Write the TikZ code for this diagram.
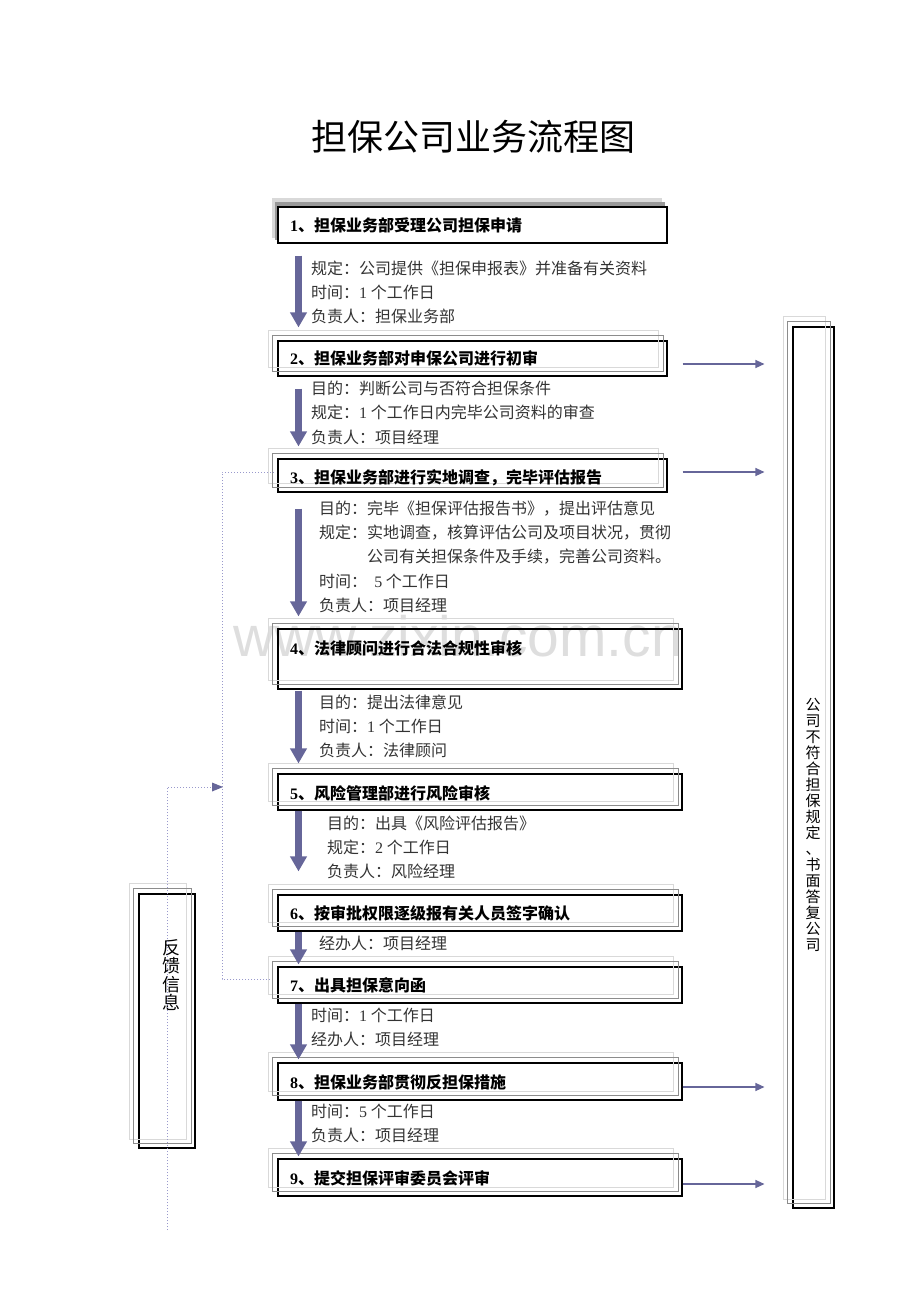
\documentclass[tikz,border=0pt]{standalone}
\usepackage{fontspec}
\setmainfont{Liberation Serif}
\newfontfamily\cjk{Noto Sans CJK SC}
\newfontfamily\lat{Liberation Serif}
\newfontfamily\wmfont{Liberation Sans}
\usetikzlibrary{arrows.meta,calc}
\definecolor{arrowblue}{HTML}{666699}
\definecolor{dotblue}{HTML}{9999CC}
\tikzset{
  box/.style={draw=black, line width=1.1pt, inner sep=0, minimum width=#1},
  lbl/.style={anchor=west, inner sep=0, font=\cjk\bfseries\fontsize{16}{18}\selectfont},
  body/.style={anchor=west, inner sep=0, text=black!80, font=\cjk\fontsize{16}{18}\selectfont},
  bigarrow/.style={draw=arrowblue, line width=7.5pt, -{Triangle[length=15pt,width=16pt]}},
  thinarrow/.style={draw=arrowblue, line width=1.2pt, -{Triangle[length=9pt,width=8pt]}},
  dotline/.style={draw=dotblue, line width=1pt, dotted},
  lay1/.style={draw=black!15, line width=1pt},
  lay2/.style={draw=black!45, line width=1pt},
}
\newcommand\layers[1]{%
  \draw[lay1] ($(#1.south west)+(-9,-9.5)$) rectangle ($(#1.north east)+(-9,-9.5)$);
  \draw[lay2] ($(#1.south west)+(-4.5,-5)$) rectangle ($(#1.north east)+(-4.5,-5)$);}
\begin{document}
\begin{tikzpicture}[x=1pt,y=-1pt]
\useasboundingbox (0,0) rectangle (920,1302);
% watermark
\node[inner sep=0, text=black!13, font=\wmfont\fontsize{57}{60}\selectfont] (wm) at (458,636) {www.zixin.com.cn};
% title
\node[inner sep=0, font=\cjk\fontsize{36}{40}\selectfont] (title) at (473,137) {担保公司业务流程图};
% box 1 with shadow
\fill[black!15] (272,198) rectangle (662,238);
\fill[black!40] (275,202) rectangle (665,240);
\node[box=389, minimum height=36, fill=white] (b1) at (472.5,225) {};
% boxes 2-9
\node[box=389, minimum height=35] (b2) at (472.5,358.5) {};
\node[box=389, minimum height=33] (b3) at (472.5,475.5) {};
\node[box=404, minimum height=60] (b4) at (480,659) {};
\node[box=404, minimum height=36] (b5) at (480,792) {};
\node[box=404, minimum height=36] (b6) at (480,913) {};
\node[box=404, minimum height=36] (b7) at (480,985) {};
\node[box=404, minimum height=37] (b8) at (480,1081.5) {};
\node[box=404, minimum height=37] (b9) at (480,1177.5) {};
\foreach \b in {b2,b3,b4,b5,b6,b7,b8,b9} {\layers{\b}}
% right and left tall boxes
\node[box=41, minimum height=881] (R) at (813.5,767.5) {};
\layers{R}
\node[box=56, minimum height=254] (L) at (167,1021) {};
\layers{L}
% labels
\node[lbl] (l1) at (290,225) {{\lat 1}、担保业务部受理公司担保申请};
\node[lbl] (l2) at (290,358.5) {{\lat 2}、担保业务部对申保公司进行初审};
\node[lbl] (l3) at (290,478) {{\lat 3}、担保业务部进行实地调查，完毕评估报告};
\node[lbl] (l4) at (290,648) {{\lat 4}、法律顾问进行合法合规性审核};
\node[lbl] (l5) at (290,793) {{\lat 5}、风险管理部进行风险审核};
\node[lbl] (l6) at (290,913) {{\lat 6}、按审批权限逐级报有关人员签字确认};
\node[lbl] (l7) at (290,985) {{\lat 7}、出具担保意向函};
\node[lbl] (l8) at (290,1082) {{\lat 8}、担保业务部贯彻反担保措施};
\node[lbl] (l9) at (290,1178) {{\lat 9}、提交担保评审委员会评审};
% body texts
\node[body] (t1a) at (311,268) {规定：公司提供《担保申报表》并准备有关资料};
\node[body] (t1b) at (311,292) {时间：{\lat 1} 个工作日};
\node[body] (t1c) at (311,316) {负责人：担保业务部};
\node[body] (t2a) at (311,388) {目的：判断公司与否符合担保条件};
\node[body] (t2b) at (311,412) {规定：{\lat 1} 个工作日内完毕公司资料的审查};
\node[body] (t2c) at (311,437) {负责人：项目经理};
\node[body] (t3a) at (319,509) {目的：完毕《担保评估报告书》，提出评估意见};
\node[body] (t3b) at (319,533) {规定：实地调查，核算评估公司及项目状况，贯彻};
\node[body] (t3c) at (367,557) {公司有关担保条件及手续，完善公司资料。};
\node[body] (t3d) at (319,581) {时间：\ \ {\lat 5} 个工作日};
\node[body] (t3e) at (319,605) {负责人：项目经理};
\node[body] (t4a) at (319,702) {目的：提出法律意见};
\node[body] (t4b) at (319,726) {时间：{\lat 1} 个工作日};
\node[body] (t4c) at (319,750) {负责人：法律顾问};
\node[body] (t5a) at (327,823) {目的：出具《风险评估报告》};
\node[body] (t5b) at (327,847) {规定：{\lat 2} 个工作日};
\node[body] (t5c) at (327,871) {负责人：风险经理};
\node[body] (t6a) at (319,943) {经办人：项目经理};
\node[body] (t7a) at (311,1015) {时间：{\lat 1} 个工作日};
\node[body] (t7b) at (311,1039) {经办人：项目经理};
\node[body] (t8a) at (311,1111) {时间：{\lat 5} 个工作日};
\node[body] (t8b) at (311,1135) {负责人：项目经理};
% vertical texts
\node[inner sep=0, align=center, font=\cjk\fontsize{15}{16}\selectfont] (rt) at (813,825)
  {公\\司\\不\\符\\合\\担\\保\\规\\定\\、\\书\\面\\答\\复\\公\\司};
\node[inner sep=0, align=center, font=\cjk\fontsize{18}{18.5}\selectfont] (lt) at (171,975)
  {反\\馈\\信\\息};
% big down arrows
\coordinate (ax) at (298.5,0);
\draw[bigarrow] ($(b1.south -| ax)+(0,12)$) -- ($(b2.north -| ax)+(0,-13)$);
\draw[bigarrow] ($(b2.south -| ax)+(0,12)$) -- ($(b3.north -| ax)+(0,-12)$);
\draw[bigarrow] ($(b3.south -| ax)+(0,16)$) -- ($(b4.north -| ax)+(0,-12)$);
\draw[bigarrow] ($(b4.south -| ax)+(0,1)$) -- ($(b5.north -| ax)+(0,-10)$);
\draw[bigarrow] ($(b5.south -| ax)$) -- ($(b6.north -| ax)+(0,-23)$);
\draw[bigarrow] ($(b6.south -| ax)$) -- ($(b7.north -| ax)+(0,-2)$);
\draw[bigarrow] ($(b7.south -| ax)$) -- ($(b8.north -| ax)+(0,-3)$);
\draw[bigarrow] ($(b8.south -| ax)$) -- ($(b9.north -| ax)+(0,-2)$);
% right thin arrows
\draw[thinarrow] ($(b2.east)+(15,5.5)$) -- ($(b2.east -| R.west)+(-28,5.5)$);
\draw[thinarrow] ($(b3.east)+(15,-3.5)$) -- ($(b3.east -| R.west)+(-28,-3.5)$);
\draw[thinarrow] ($(b8.east)+(0,5.5)$) -- ($(b8.east -| R.west)+(-28,5.5)$);
\draw[thinarrow] ($(b9.east)+(0,6.5)$) -- ($(b9.east -| R.west)+(-28,6.5)$);
% dotted feedback lines
\coordinate (p3) at (274,472);
\coordinate (p7) at (270,979);
\coordinate (q1) at (222,472);
\coordinate (q2) at (222,979);
\coordinate (fb0) at (167,787);
\coordinate (fb1) at (167,1230);
\draw[dotline] (p7) -- (q2) -- (q1) -- (p3);
\draw[dotline] (fb1) -- (fb0) -- ($(fb0 -| q1)+(-1,0)$);
\fill[arrowblue] ($(fb0 -| q1)+(1,0)$) -- ++(-11,-4.5) -- ++(0,9) -- cycle;
\end{tikzpicture}
\end{document}
